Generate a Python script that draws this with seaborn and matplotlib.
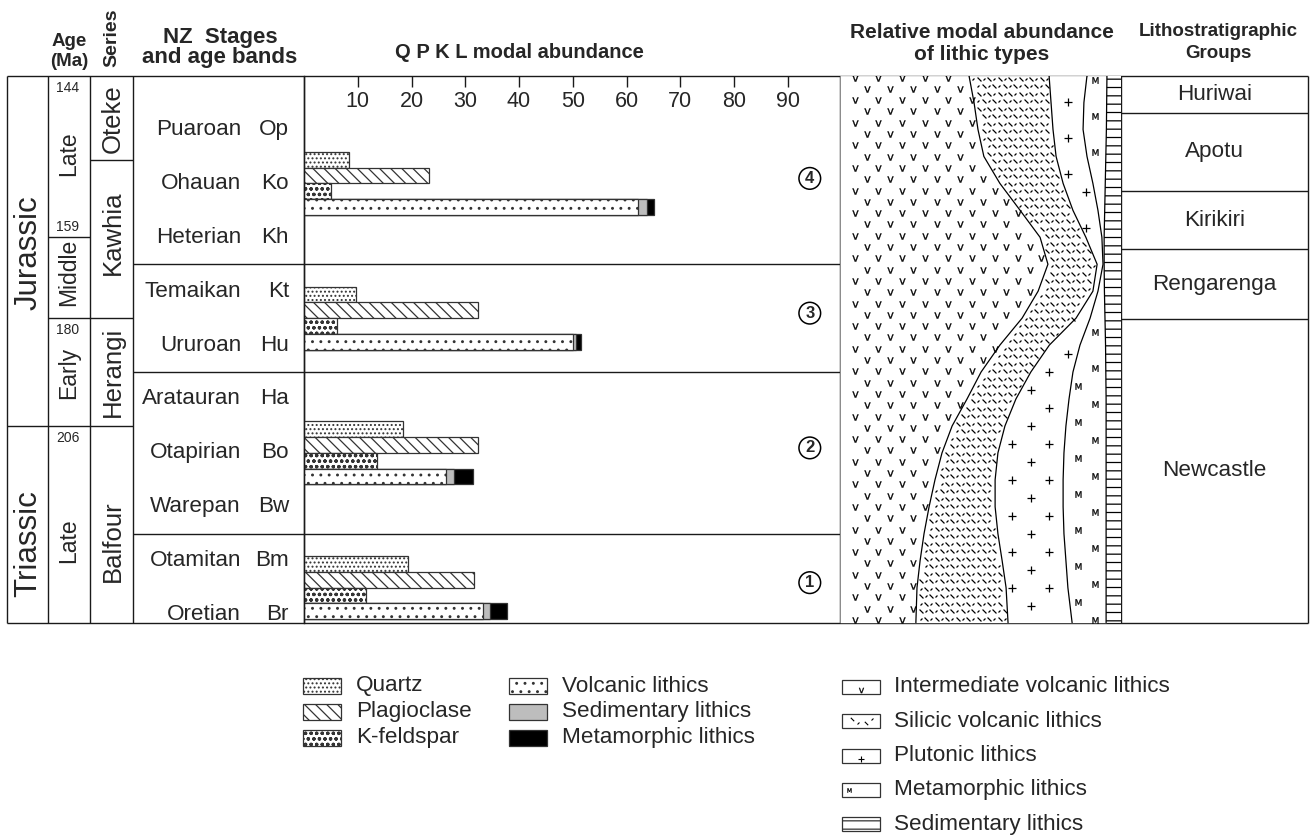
import numpy as np
import pandas as pd
import matplotlib
matplotlib.use("Agg")
import matplotlib.pyplot as plt
from matplotlib.patches import Rectangle
from matplotlib.markers import MarkerStyle
from matplotlib.transforms import Affine2D
import seaborn as sns

sns.set_theme(style="white")
plt.rcParams["font.family"] = ["Liberation Sans", "DejaVu Sans"]
plt.rcParams["hatch.linewidth"] = 0.9
plt.rcParams["hatch.color"] = "black"

# ------------------------------------------------------------------ data
stage_names = ["Puaroan", "Ohauan", "Heterian", "Temaikan", "Ururoan",
               "Aratauran", "Otapirian", "Warepan", "Otamitan", "Oretian"]
stage_codes = ["Op", "Ko", "Kh", "Kt", "Hu", "Ha", "Bo", "Bw", "Bm", "Br"]

# sample groups, youngest (4) to oldest (1), and their row in the stage column
group_labels = ["4", "3", "2", "1"]
group_rows = [1.0, 3.5, 6.0, 8.5]

# QPKL modal abundance (%)
quartz = [8.3, 9.6, 18.4, 19.3]
plagioclase = [23.2, 32.3, 32.3, 31.6]
k_feldspar = [5.0, 6.2, 13.5, 11.5]
volcanic_lithics = [62.1, 50.0, 26.4, 33.3]
sedimentary_lithics = [1.8, 0.6, 1.5, 1.3]
metamorphic_lithics = [1.3, 0.9, 3.5, 3.2]
abundance_ticks = [10, 20, 30, 40, 50, 60, 70, 80, 90]

# chronostratigraphic framework (positions in stage-row units)
periods = ["Jurassic", "Triassic"]
period_spans = [(-1.0, 5.5), (5.5, 9.15)]
period_label_rows = [2.28, 7.68]
epochs = ["Late", "Middle", "Early", "Late"]
epoch_spans = [(-1.0, 2.0), (2.0, 3.5), (3.5, 5.5), (5.5, 9.15)]
epoch_label_rows = [0.44, 2.66, 4.52, 7.62]
age_ma = ["144", "159", "180", "206"]
age_rows = [-1.0, 2.0, 3.5, 5.5]
series = ["Oteke", "Kawhia", "Herangi", "Balfour"]
series_spans = [(-1.0, 0.57), (0.57, 3.5), (3.5, 5.5), (5.5, 9.15)]
series_label_rows = [-0.21, 1.92, 4.5, 7.63]
band_bounds = [-1.0, 2.5, 4.5, 7.5, 9.15]
litho_groups = ["Huriwai", "Apotu", "Kirikiri", "Rengarenga", "Newcastle"]
litho_bounds = [-1.0, -0.31, 1.14, 2.22, 3.52, 9.15]

# relative modal abundance of lithic types (%), sampled down the column
lith_rows = [-1.0, -0.5, 0.0, 0.5, 1.0, 1.5, 2.0, 2.5, 3.0, 3.5, 4.0,
             4.5, 5.0, 5.5, 6.0, 6.5, 7.0, 7.5, 8.0, 8.5, 9.15]
intermediate_volcanic = [45.9, 47.7, 49.1, 51.2, 56.9, 64.1, 71.2, 74.0, 70.5, 64.8, 56.9,
                         50.2, 45.2, 39.9, 36.3, 33.8, 31.7, 29.9, 28.5, 27.4, 27.0]
silicic_volcanic = [28.5, 27.4, 26.7, 25.7, 22.5, 18.8, 16.3, 17.5, 19.5, 19.2, 17.6,
                    17.7, 17.4, 18.8, 19.9, 21.4, 23.5, 26.3, 29.2, 31.7, 32.8]
plutonic = [13.5, 11.7, 10.7, 11.0, 10.6, 8.9, 5.7, 2.1, 1.8, 5.0, 10.9,
            15.0, 18.9, 21.7, 23.5, 24.2, 24.2, 23.5, 22.7, 22.0, 22.8]
metamorphic = [7.1, 8.1, 8.3, 6.7, 4.4, 2.4, 0.8, 0.4, 2.3, 5.3, 9.1,
               11.7, 13.2, 14.3, 15.0, 15.3, 15.3, 15.0, 14.3, 13.6, 12.1]
sedimentary = [5.0, 5.1, 5.2, 5.4, 5.6, 5.8, 6.0, 6.0, 5.9, 5.7, 5.5,
               5.4, 5.3, 5.3, 5.3, 5.3, 5.3, 5.3, 5.3, 5.3, 5.3]

# ------------------------------------------------------------------ layout
W, H = 1314, 839
Y0, ROW = 129.5, 53.9


def ypx(r):
    return Y0 + ROW * np.asarray(r, dtype=float)


TOP, BOT = float(ypx(-1.0)), float(ypx(9.15))
X_L, X_AGE, X_SER, X_STG, X_BAR, X_LITH, X_GRP, X_R = 7, 48, 90, 133, 304, 840, 1121, 1308
LC, LW = "#1a1a1a", 1.0
BAR_H = 15.75
TXT = 16.2

fig = plt.figure(figsize=(W / 100, H / 100), dpi=100)
fax = fig.add_axes([0, 0, 1, 1])
fax.set_xlim(0, W)
fax.set_ylim(H, 0)
fax.axis("off")


def axes_box(x0, x1, y0, y1):
    return fig.add_axes([x0 / W, 1 - y1 / H, (x1 - x0) / W, (y1 - y0) / H])


def hline(y, x0, x1):
    fax.plot([x0, x1], [y, y], color=LC, lw=LW, solid_capstyle="butt")


def vline(x, y0, y1):
    fax.plot([x, x], [y0, y1], color=LC, lw=LW, solid_capstyle="butt")


# ------------------------------------------------------------------ table frame
hline(TOP, X_L, X_R)
hline(BOT, X_L, X_R)
for x in (X_L, X_AGE, X_SER, X_STG, X_BAR, X_LITH, X_GRP, X_R):
    vline(x, TOP, BOT)
hline(ypx(period_spans[0][1]), X_L, X_STG)
hline(ypx(epoch_spans[0][1]), X_AGE, X_SER)
hline(ypx(epoch_spans[1][1]), X_AGE, X_STG)
hline(ypx(series_spans[0][1]), X_SER, X_STG)
for b in band_bounds[1:-1]:
    hline(ypx(b), X_STG, X_LITH)
for b in litho_bounds[1:-1]:
    hline(ypx(b), X_GRP, X_R)

# headers
fax.text(69, 42, "Age", ha="center", va="center", fontsize=13.5, weight="bold")
fax.text(69, 61, "(Ma)", ha="center", va="center", fontsize=13.5, weight="bold")
fax.text(112, 38, "Series", ha="center", va="center", fontsize=14, weight="bold", rotation=90)
fax.text(220, 37, "NZ  Stages", ha="center", va="center", fontsize=16, weight="bold")
fax.text(220, 58, "and age bands", ha="center", va="center", fontsize=16, weight="bold")
fax.text(519, 52, "Q P K L modal abundance", ha="center", va="center", fontsize=14.5, weight="bold")
fax.text(982, 32, "Relative modal abundance", ha="center", va="center", fontsize=15, weight="bold")
fax.text(982, 54, "of lithic types", ha="center", va="center", fontsize=15, weight="bold")
fax.text(1218, 32, "Lithostratigraphic", ha="center", va="center", fontsize=13.5, weight="bold")
fax.text(1218, 54, "Groups", ha="center", va="center", fontsize=13.5, weight="bold")

# left columns
for name, r in zip(periods, period_label_rows):
    fax.text((X_L + X_AGE) / 2 + 1, ypx(r), name, ha="center", va="center",
             fontsize=22.5, rotation=90)
for name, r in zip(epochs, epoch_label_rows):
    fax.text((X_AGE + X_SER) / 2, ypx(r), name, ha="center", va="center",
             fontsize=16.5, rotation=90)
for lab, r in zip(age_ma, age_rows):
    y = ypx(r)
    if lab == "159":
        fax.text(56, y - 10, lab, ha="left", va="center", fontsize=10)
    else:
        fax.text(56, y + 12, lab, ha="left", va="center", fontsize=10)
for name, r in zip(series, series_label_rows):
    fax.text((X_SER + X_STG) / 2 + 1, ypx(r), name, ha="center", va="center",
             fontsize=18.5, rotation=90)
for i, (name, code) in enumerate(zip(stage_names, stage_codes)):
    fax.text(241, ypx(i), name, ha="right", va="center", fontsize=TXT)
    fax.text(289, ypx(i), code, ha="right", va="center", fontsize=TXT)
for i, name in enumerate(litho_groups):
    fax.text((X_GRP + X_R) / 2, ypx((litho_bounds[i] + litho_bounds[i + 1]) / 2), name,
             ha="center", va="center", fontsize=TXT)

# ------------------------------------------------------------------ QPKL bars
bax = axes_box(X_BAR, X_LITH, TOP, BOT)
bax.set_facecolor("none")
mineral_order = ["Quartz", "Plagioclase", "K-feldspar", "Lithics"]
ycen = ypx(group_rows)
spacing = np.min(np.diff(ycen))
bar_width = len(mineral_order) * BAR_H / spacing

lithic_total = np.add(np.add(volcanic_lithics, sedimentary_lithics), metamorphic_lithics)
lithic_vs = np.add(volcanic_lithics, sedimentary_lithics)

rows = []
for i in range(len(group_labels)):
    for m, v in zip(mineral_order, [quartz[i], plagioclase[i], k_feldspar[i], lithic_total[i]]):
        rows.append({"ypos": ycen[i], "mineral": m, "value": v})
df_main = pd.DataFrame(rows)
df_vs = pd.DataFrame({"ypos": ycen, "mineral": "Lithics", "value": lithic_vs})
df_v = pd.DataFrame({"ypos": ycen, "mineral": "Lithics", "value": volcanic_lithics})

bar_kw = dict(x="value", y="ypos", hue="mineral", hue_order=mineral_order, orient="y",
              native_scale=True, dodge=True, width=bar_width, errorbar=None,
              legend=False, saturation=1, edgecolor="#333333", linewidth=0.9, ax=bax)
KFS_HATCH = "ooo"
hatches = {"Quartz": "....", "Plagioclase": "\\\\\\", "K-feldspar": KFS_HATCH, "Lithics": None}


def draw_layer(df, palette, hatch_map):
    n0 = len(bax.containers)
    sns.barplot(data=df, palette=palette, **bar_kw)
    new = bax.containers[n0:]
    for name, cont in zip(mineral_order, new):
        h = hatch_map.get(name)
        if h:
            for p in cont.patches:
                p.set_hatch(h)


draw_layer(df_main, {"Quartz": "white", "Plagioclase": "white", "K-feldspar": "white",
                     "Lithics": "black"}, hatches)
draw_layer(df_vs, {"Quartz": "white", "Plagioclase": "white", "K-feldspar": "white",
                   "Lithics": "#bdbdbd"}, {})
draw_layer(df_v, {"Quartz": "white", "Plagioclase": "white", "K-feldspar": "white",
                  "Lithics": "white"}, {"Lithics": ".."})

bax.set_xlim(0, (X_LITH - X_BAR) / 5.375)
bax.set_ylim(BOT, TOP)
bax.set_xlabel("")
bax.set_ylabel("")
bax.set_yticks([])
bax.set_xticks(abundance_ticks)
bax.tick_params(axis="x", top=True, bottom=False, direction="in", length=8, width=1,
                color=LC, labeltop=False, labelbottom=False)
for s in ("top", "right", "bottom"):
    bax.spines[s].set_visible(False)
bax.spines["left"].set_color(LC)
bax.spines["left"].set_linewidth(LW)
for t in abundance_ticks:
    bax.text(t, TOP + 26, str(t), ha="center", va="center", fontsize=15.5)
for lab, yc in zip(group_labels, ycen):
    bax.text(94.1, yc - 5, lab, ha="center", va="center", fontsize=12, weight="bold",
             bbox=dict(boxstyle="circle,pad=0.2", fc="white", ec="black", lw=1.1))

# ------------------------------------------------------------------ lithic panel
lax = axes_box(X_LITH, X_GRP, TOP, BOT)
lax.set_facecolor("none")
ly = ypx(lith_rows)
parts = np.array([intermediate_volcanic, silicic_volcanic, plutonic, metamorphic, sedimentary])
parts = parts / parts.sum(axis=0) * 100.0
cum = np.cumsum(parts, axis=0)
edges = [np.zeros_like(ly)] + [cum[k] for k in range(4)] + [np.full_like(ly, 100.0)]

for k in range(5):
    lax.fill_betweenx(ly, edges[k], edges[k + 1], facecolor="white", edgecolor="black",
                      linewidth=0, hatch="--" if k == 4 else None, zorder=1)

PX = 100.0 / (X_GRP - X_LITH)


def pattern(lo, hi, dx, dy, x0, y0, margin, **kw):
    xs_all, ys_all = [], []
    for k, yy in enumerate(np.arange(TOP + y0, BOT, dy)):
        off = x0 + (dx / 2.0 if k % 2 else 0.0)
        xs = np.arange(off, X_GRP - X_LITH, dx) * PX
        left = np.interp(yy, ly, lo) + margin * PX
        right = np.interp(yy, ly, hi) - margin * PX
        sel = xs[(xs > left) & (xs < right)]
        xs_all.extend(sel)
        ys_all.extend([yy] * len(sel))
    lax.scatter(xs_all, ys_all, zorder=2, clip_on=True, **kw)


pattern(edges[0], edges[1], 23.3, 11.3, 15.0, 2.0, 2.0,
        marker=r"$\mathrm{v}$", s=20, color="black", linewidths=0.2)
back = MarkerStyle("|", transform=Affine2D().rotate_deg(45))
fwd = MarkerStyle("|", transform=Affine2D().rotate_deg(-45))
pattern(edges[1], edges[2], 10.5, 7.5, 2.0, 3.0, 2.5,
        marker=back, s=16, color="black", linewidths=0.9)
pattern(edges[1], edges[2], 10.5, 7.5, 7.0, 3.0, 2.5,
        marker=fwd, s=4, color="black", linewidths=0.9)
pattern(edges[2], edges[3], 37.0, 18.0, 24.0, 8.0, 3.0,
        marker="+", s=26, color="black", linewidths=0.9)
pattern(edges[3], edges[4], 34.0, 18.0, 17.0, 4.0, 2.5,
        marker=r"$\mathrm{M}$", s=22, color="black", linewidths=0.2)

for k in range(1, 5):
    sns.lineplot(x=edges[k], y=ly, orient="y", sort=False, color="black", lw=0.9,
                 ax=lax, zorder=3)
lax.set_xlim(0, 100)
lax.set_ylim(BOT, TOP)
lax.axis("off")

# ------------------------------------------------------------------ legends
left_items = [("Quartz", "white", "...."), ("Plagioclase", "white", "\\\\\\"),
              ("K-feldspar", "white", KFS_HATCH)]
mid_items = [("Volcanic lithics", "white", ".."), ("Sedimentary lithics", "#bdbdbd", None),
             ("Metamorphic lithics", "black", None)]
for col_x, items in ((303, left_items), (509, mid_items)):
    for j, (lab, fc, hatch) in enumerate(items):
        yc = 686 + 26 * j
        fax.add_patch(Rectangle((col_x, yc - 8), 38, 16, facecolor=fc, edgecolor="#333333",
                                lw=0.9, hatch=hatch))
        fax.text(col_x + 53, yc, lab, ha="left", va="center", fontsize=TXT)

right_items = ["Intermediate volcanic lithics", "Silicic volcanic lithics", "Plutonic lithics",
               "Metamorphic lithics", "Sedimentary lithics"]
for j, lab in enumerate(right_items):
    yc = 687 + 34.3 * j
    fax.add_patch(Rectangle((842, yc - 7), 38, 14, facecolor="white", edgecolor="#333333",
                            lw=0.9, hatch="--" if j == 4 else None))
    fax.text(894, yc, lab, ha="left", va="center", fontsize=TXT)
    if j == 0:
        fax.scatter([861], [yc + 3], marker=r"$\mathrm{v}$", s=14, color="black", linewidths=0.2)
    elif j == 1:
        fax.scatter([852, 866], [yc - 2, yc + 2], marker=back, s=12, color="black", linewidths=0.8)
        fax.scatter([858, 872], [yc + 2, yc - 2], marker=fwd, s=4, color="black", linewidths=0.8)
    elif j == 2:
        fax.scatter([861], [yc + 3], marker="+", s=16, color="black", linewidths=0.8)
    elif j == 3:
        fax.scatter([849], [yc], marker=r"$\mathrm{M}$", s=10, color="black", linewidths=0.2)

fig.savefig("out.png", dpi=100)
